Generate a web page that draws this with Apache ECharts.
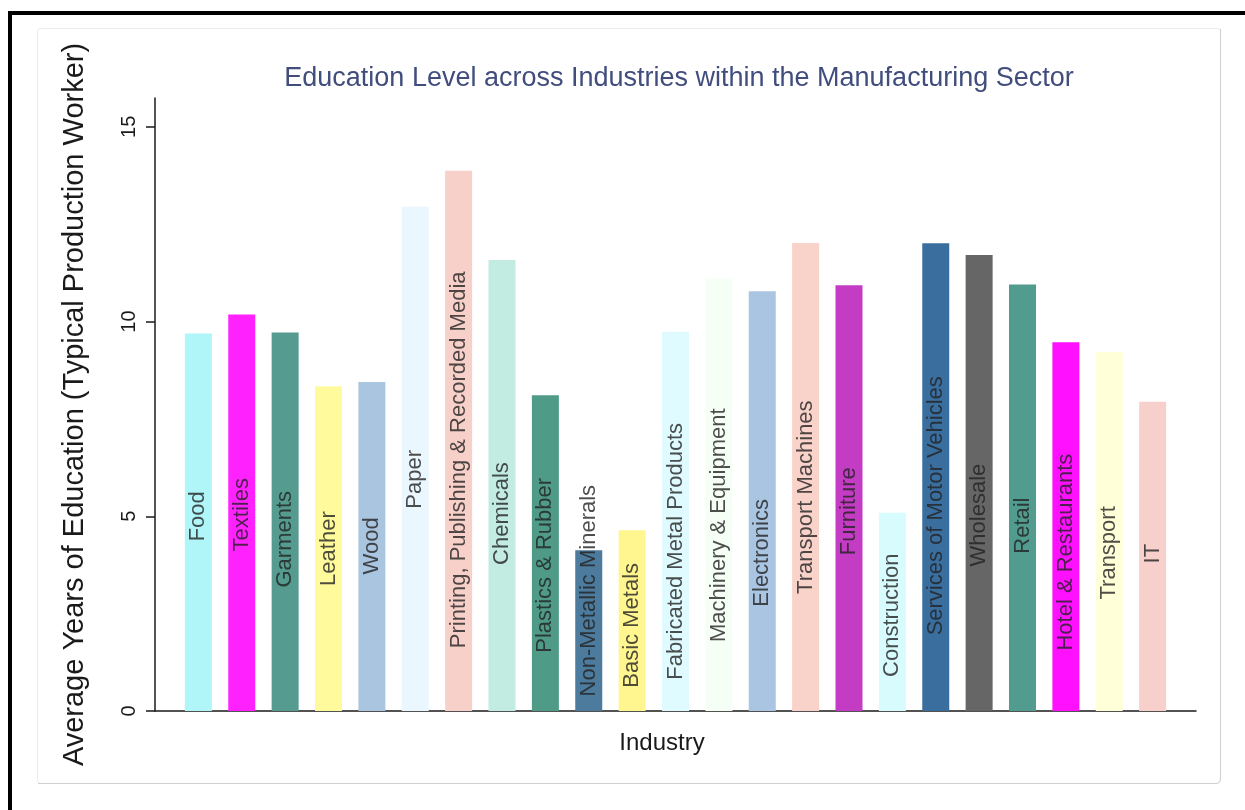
<!DOCTYPE html>
<html>
<head>
<meta charset="utf-8">
<title>Education Level across Industries within the Manufacturing Sector</title>
<script src="https://cdn.jsdelivr.net/npm/echarts@6/dist/echarts.min.js"></script>
<style>
  html, body { margin: 0; padding: 0; background: #ffffff; }
  #chart { width: 1245px; height: 810px; }
</style>
</head>
<body>
<div id="chart"></div>
<script>
// Industries, in plotting order
const industries = [
  'Food', 'Textiles', 'Garments', 'Leather', 'Wood', 'Paper',
  'Printing, Publishing & Recorded Media', 'Chemicals', 'Plastics & Rubber',
  'Non-Metallic Minerals', 'Basic Metals', 'Fabricated Metal Products',
  'Machinery & Equipment', 'Electronics', 'Transport Machines', 'Furniture',
  'Construction', 'Services of Motor Vehicles', 'Wholesale', 'Retail',
  'Hotel & Restaurants', 'Transport', 'IT'
];

// Average years of education of a typical production worker
const avgYears = [
  9.69, 10.18, 9.72, 8.34, 8.45, 12.95,
  13.87, 11.58, 8.11,
  4.13, 4.64, 9.74,
  11.1, 10.78, 12.02, 10.93,
  5.09, 12.01, 11.71, 10.95,
  9.47, 9.22, 7.94
];

// Height (in years) at which each industry name is centred
const labelAt = [
  5.00, 5.04, 4.41, 4.17, 4.24, 5.95,
  6.45, 5.07, 3.74,
  3.09, 2.20, 4.10,
  4.77, 4.06, 5.49, 5.13,
  2.46, 5.27, 5.03, 4.76,
  4.08, 4.06, 4.04
];

// Y axis tick values
const yTicks = [0, 5, 10, 15];

// Bar fill per industry
const barColors = [
  '#b0f6f8', '#ff22ff', '#559b8f', '#fffb9c', '#aac5e0', '#ebf7ff',
  '#f8d0ca', '#c2ebe1', '#4f9b88',
  '#4d7b9d', '#fff68f', '#e0fbff',
  '#f5fff5', '#a9c5e1', '#f9d2ca', '#c33cc3',
  '#d8fbfd', '#3a6e9f', '#666666', '#519b8f',
  '#ff11ff', '#ffffd8', '#f8d0cb'
];

const FONT = "'Liberation Sans', Arial, sans-serif";

const barData = avgYears.map((v, i) => ({
  value: [i + 1, v],
  itemStyle: { color: barColors[i] }
}));

const labelData = labelAt.map((v, i) => ({
  value: [i + 1, v],
  name: industries[i]
}));

const chart = echarts.init(document.getElementById('chart'), null, { renderer: 'canvas' });

chart.setOption({
  backgroundColor: '#ffffff',
  animation: false,
  graphic: [
    // outer black frame (top and left edges)
    { type: 'rect', shape: { x: 8, y: 11, width: 1237, height: 4 }, style: { fill: '#000' }, z: 0 },
    { type: 'rect', shape: { x: 8, y: 11, width: 4, height: 799 }, style: { fill: '#000' }, z: 0 },
    // light panel behind the graph
    {
      type: 'rect',
      shape: { x: 37.5, y: 28.5, width: 1183, height: 755, r: 3 },
      style: { fill: '#ffffff', stroke: '#ebebeb', lineWidth: 1 },
      z: 0
    },
    {
      type: 'polyline',
      shape: { points: [[1220.5, 29], [1220.5, 780], [1217.5, 783.5], [38, 783.5]] },
      style: { fill: null, stroke: '#cfcfcf', lineWidth: 1 },
      z: 0
    }
  ],
  title: [
    {
      text: 'Education Level across Industries within the Manufacturing Sector',
      left: 674,
      top: 60,
      textAlign: 'center',
      textStyle: { fontFamily: FONT, fontSize: 27, fontWeight: 'normal', color: '#414d7d' }
    },
    {
      text: 'Industry',
      left: 657,
      top: 726,
      textAlign: 'center',
      textStyle: { fontFamily: FONT, fontSize: 24, fontWeight: 'normal', color: '#1a1a1a' }
    }
  ],
  grid: { left: 155, right: 49, top: 98, bottom: 99 },
  xAxis: {
    type: 'value',
    min: 0,
    max: 24,
    axisLine: { show: true, lineStyle: { color: '#1a1a1a', width: 1.5 } },
    axisTick: { show: false },
    axisLabel: { show: false },
    splitLine: { show: false }
  },
  yAxis: {
    type: 'value',
    min: 0,
    max: 15.74,
    name: 'Average Years of Education (Typical Production Worker)',
    nameLocation: 'middle',
    nameGap: 66,
    nameTextStyle: { fontFamily: FONT, fontSize: 29, color: '#1a1a1a' },
    axisLine: { show: true, lineStyle: { color: '#1a1a1a', width: 1.5 } },
    axisTick: {
      show: true,
      length: 9,
      customValues: yTicks,
      lineStyle: { color: '#1a1a1a', width: 1.5 }
    },
    axisLabel: {
      show: true,
      rotate: 90,
      margin: 16,
      customValues: yTicks,
      fontFamily: FONT,
      fontSize: 20,
      color: '#1a1a1a'
    },
    splitLine: { show: false }
  },
  series: [
    {
      type: 'bar',
      data: barData,
      barWidth: 27,
      silent: true,
      z: 2
    },
    {
      type: 'scatter',
      data: labelData,
      symbolSize: 0,
      silent: true,
      z: 3,
      label: {
        show: true,
        position: 'inside',
        rotate: 90,
        formatter: p => p.name,
        fontFamily: FONT,
        fontSize: 22,
        color: '#222222'
      }
    }
  ]
});
</script>
</body>
</html>
